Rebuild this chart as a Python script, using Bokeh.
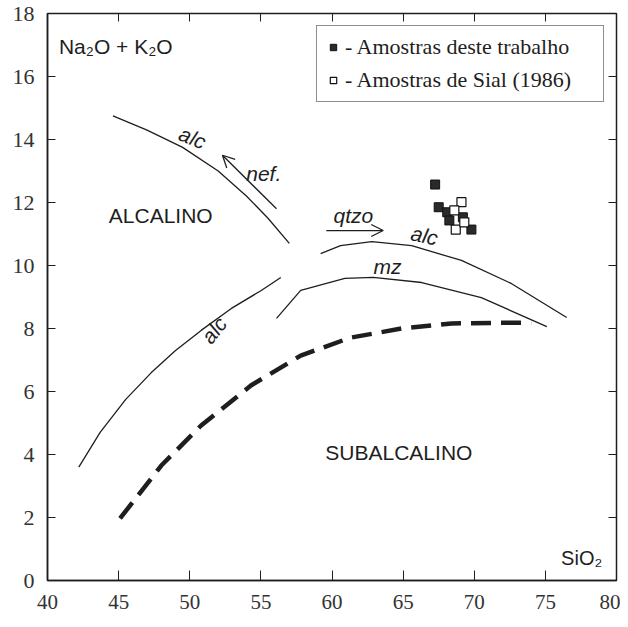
import math
from bokeh.plotting import figure
from bokeh.models import (LinearAxis, FixedTicker, Arrow, OpenHead, Legend,
                          LegendItem, ColumnDataSource)
from bokeh.core.properties import value
from bokeh.embed import file_html
from bokeh.resources import INLINE

# ---------------- data ----------------
x_ticks = [40, 45, 50, 55, 60, 65, 70, 75, 80]
y_ticks = [0, 2, 4, 6, 8, 10, 12, 14, 16, 18]

# alkaline / nepheline boundary ("alc", upper left)
alc_top_x = [44.6, 47.0, 49.5, 52.0, 54.0, 55.5, 57.0]
alc_top_y = [14.75, 14.3, 13.75, 13.0, 12.2, 11.5, 10.7]

# alkaline / subalkaline boundary, left branch ("alc")
alc_left_x = [42.2, 43.7, 45.5, 47.3, 49.0, 50.8, 52.9, 55.0, 56.4]
alc_left_y = [3.6, 4.7, 5.75, 6.6, 7.3, 7.94, 8.63, 9.2, 9.62]

# alkaline / subalkaline boundary, right branch ("alc")
alc_right_x = [59.2, 60.6, 62.8, 65.6, 69.1, 72.6, 76.5]
alc_right_y = [10.38, 10.63, 10.76, 10.63, 10.16, 9.43, 8.35]

# "mz" curve
mz_x = [56.1, 57.8, 60.9, 62.9, 66.3, 70.5, 75.1]
mz_y = [8.32, 9.21, 9.59, 9.62, 9.46, 8.98, 8.06]

# thick dashed curve
dash_x = [45.1, 48.0, 50.8, 54.3, 57.8, 61.3, 64.9, 68.4, 74.0]
dash_y = [1.97, 3.65, 4.92, 6.19, 7.14, 7.71, 8.0, 8.16, 8.19]

# samples of this work (filled squares)
this_x = [67.25, 67.5, 68.1, 68.25, 69.2, 69.8]
this_y = [12.57, 11.85, 11.69, 11.43, 11.53, 11.14]

# samples of Sial (1986) (open squares)
sial_x = [69.1, 68.6, 68.7, 69.3]
sial_y = [12.01, 11.75, 11.14, 11.37]

# arrows (tail -> head)
nef_arrow = [56.1, 11.8, 52.3, 13.5]
qtz_arrow = [59.6, 11.11, 63.6, 11.11]

# annotation texts: text, x, y, angle (deg)
italic_labels = [
    ("alc", 50.2, 14.06, -22),
    ("nef.", 55.2, 12.92, 0),
    ("qtzo", 61.5, 11.6, 0),
    ("alc", 66.5, 10.95, -12),
    ("mz", 63.9, 9.97, 0),
    ("alc", 51.7, 7.95, 52),
]
plain_labels = [
    ("ALCALINO", 47.96, 11.59),
    ("SUBALCALINO", 64.7, 4.06),
]

INK = "#1e1e1e"

p = figure(width=620, height=619, x_range=(40, 80), y_range=(0, 18),
           output_backend="svg", toolbar_location=None,
           min_border_left=47, min_border_right=4, min_border_top=13,
           min_border_bottom=39)
p.background_fill_color = "white"
p.border_fill_color = "white"
p.grid.visible = False
p.outline_line_color = INK
p.outline_line_width = 1.5

AX_FONT = "Liberation Sans Narrow"
for ax in p.xaxis:
    ax.ticker = FixedTicker(ticks=x_ticks)
    ax.major_tick_in = 10
    ax.major_tick_out = 0
    ax.minor_tick_in = 0
    ax.minor_tick_out = 0
    ax.axis_line_color = INK
    ax.axis_line_width = 1.5
    ax.major_tick_line_color = INK
    ax.major_label_text_font = AX_FONT
    ax.major_label_text_font_size = "21px"
    ax.major_label_text_color = "#333333"
    ax.major_label_standoff = 14
for ax in p.yaxis:
    ax.ticker = FixedTicker(ticks=y_ticks)
    ax.major_tick_in = 8
    ax.major_tick_out = 0
    ax.minor_tick_in = 0
    ax.minor_tick_out = 0
    ax.axis_line_color = INK
    ax.axis_line_width = 1.5
    ax.major_tick_line_color = INK
    ax.major_label_text_font = AX_FONT
    ax.major_label_text_font_size = "22px"
    ax.major_label_text_color = "#333333"
    ax.major_label_standoff = 13

top_ticks = x_ticks[1:-1]
right_ticks = y_ticks[1:-1]
top_ax = LinearAxis(ticker=FixedTicker(ticks=top_ticks), major_tick_in=8,
                    major_tick_out=0, minor_tick_in=0, minor_tick_out=0,
                    major_label_overrides={t: "" for t in top_ticks},
                    major_label_text_font_size="1px", major_label_standoff=0,
                    axis_line_color=INK, major_tick_line_color=INK)
right_ax = LinearAxis(ticker=FixedTicker(ticks=right_ticks), major_tick_in=8,
                      major_tick_out=0, minor_tick_in=0, minor_tick_out=0,
                      major_label_overrides={t: "" for t in right_ticks},
                      major_label_text_font_size="1px", major_label_standoff=0,
                      axis_line_color=INK, major_tick_line_color=INK)
p.add_layout(top_ax, "above")
p.add_layout(right_ax, "right")

# curves
for xs, ys in [(alc_top_x, alc_top_y), (alc_left_x, alc_left_y),
               (alc_right_x, alc_right_y), (mz_x, mz_y)]:
    p.line(xs, ys, line_color=INK, line_width=1.3)
p.line(dash_x, dash_y, line_color=INK, line_width=4.5, line_dash="20 10")

# arrows
for a in (nef_arrow, qtz_arrow):
    p.add_layout(Arrow(x_start=a[0], y_start=a[1], x_end=a[2], y_end=a[3],
                       line_color=INK, line_width=1.3,
                       end=OpenHead(size=12, line_color=INK, line_width=1.3)))

# points
filled = p.scatter(this_x, this_y, marker="square", size=9,
                   fill_color="#2a2a2a", line_color="#111111", line_width=1)
openr = p.scatter(sial_x, sial_y, marker="square", size=9,
                  fill_color="white", line_color="#111111", line_width=1.2)

# text labels
src_it = ColumnDataSource(dict(
    text=[t[0] for t in italic_labels], x=[t[1] for t in italic_labels],
    y=[t[2] for t in italic_labels],
    angle=[math.radians(t[3]) for t in italic_labels]))
p.text(x="x", y="y", text="text", angle="angle", source=src_it,
       text_font=value("Liberation Sans"), text_font_style="italic",
       text_font_size="21px", text_color=INK, text_align="center",
       text_baseline="middle")

src_pl = ColumnDataSource(dict(
    text=[t[0] for t in plain_labels], x=[t[1] for t in plain_labels],
    y=[t[2] for t in plain_labels]))
p.text(x="x", y="y", text="text", source=src_pl,
       text_font=value("Liberation Sans"), text_font_size="21px",
       text_color=INK, text_align="center", text_baseline="middle")

p.text(x=[40.8], y=[16.95], text=["Na\u2082O + K\u2082O"],
       text_font=value("Liberation Sans"), text_font_size="21px",
       text_color=INK, text_align="left", text_baseline="middle")
p.text(x=[77.55], y=[0.73], text=["SiO\u2082"],
       text_font=value("Liberation Sans"), text_font_size="20px",
       text_color=INK, text_align="center", text_baseline="middle")

legend = Legend(items=[
    LegendItem(label="- Amostras deste trabalho", renderers=[filled]),
    LegendItem(label="- Amostras de Sial (1986)", renderers=[openr]),
], location="top_right")
legend.margin = 12
legend.padding = 8
legend.spacing = 7
legend.border_line_color = INK
legend.border_line_width = 1.5
legend.background_fill_color = "white"
legend.label_text_font = "Liberation Serif"
legend.label_text_font_size = "22px"
legend.label_text_color = INK
legend.glyph_width = 16
legend.glyph_height = 16
legend.label_standoff = 4
legend.label_width = 250
legend.label_height = 24
p.add_layout(legend)

open("out.html", "w").write(file_html(p, INLINE))
